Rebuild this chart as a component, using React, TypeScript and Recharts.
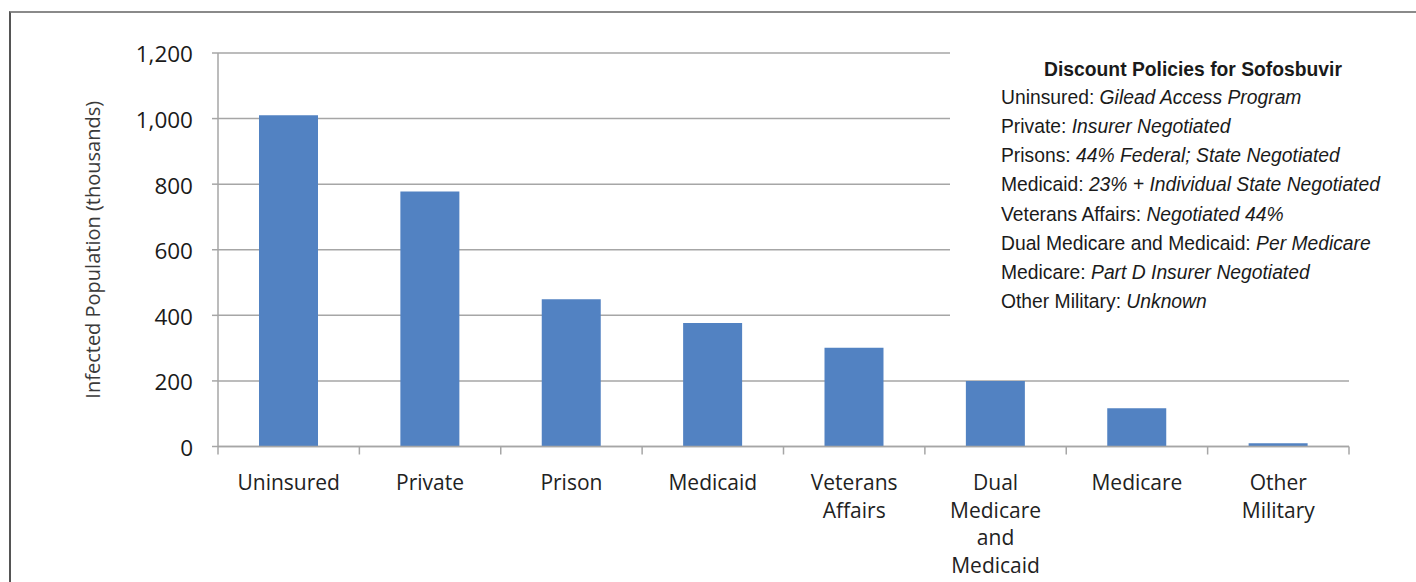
import { Bar, BarChart, CartesianGrid, XAxis, YAxis } from "recharts";

// infected population by payer, thousands
const categories = [
  "Uninsured",
  "Private",
  "Prison",
  "Medicaid",
  "Veterans Affairs",
  "Dual Medicare and Medicaid",
  "Medicare",
  "Other Military",
];
const population = [1010, 778, 449, 377, 301, 200, 117, 10];
const yTicks = [0, 200, 400, 600, 800, 1000, 1200];

const policyGroups = [
  "Uninsured",
  "Private",
  "Prisons",
  "Medicaid",
  "Veterans Affairs",
  "Dual Medicare and Medicaid",
  "Medicare",
  "Other Military",
];
const policies = [
  "Gilead Access Program",
  "Insurer Negotiated",
  "44% Federal; State Negotiated",
  "23% + Individual State Negotiated",
  "Negotiated 44%",
  "Per Medicare",
  "Part D Insurer Negotiated",
  "Unknown",
];

const data = categories.map((name, i) => ({ name, value: population[i] }));

const WIDTH = 1416;
const HEIGHT = 582;
const PLOT_LEFT = 218;
const PLOT_RIGHT = 1349;
const BAND = (PLOT_RIGHT - PLOT_LEFT) / categories.length;
const GRID = "#a6a6a6";
const AXIS_FONT = "'Open Sans', sans-serif";

function CategoryTick(props: any) {
  const { x, y, payload, index } = props;
  const words = String(payload.value).split(" ");
  const last = index === categories.length - 1;
  return (
    <g>
      <line x1={x - BAND / 2} x2={x - BAND / 2} y1={y - 8} y2={y} stroke={GRID} strokeWidth={1.5} />
      {last && (
        <line x1={x + BAND / 2} x2={x + BAND / 2} y1={y - 8} y2={y} stroke={GRID} strokeWidth={1.5} />
      )}
      <text
        x={x}
        y={y + 35.5}
        textAnchor="middle"
        fill="#222"
        fontSize={21}
        fontFamily={AXIS_FONT}
      >
        {words.map((w, i) => (
          <tspan key={w + i} x={x} dy={i === 0 ? 0 : 27.5}>
            {w}
          </tspan>
        ))}
      </text>
    </g>
  );
}

export default function App() {
  return (
    <div
      style={{
        position: "absolute",
        left: 0,
        top: 0,
        width: WIDTH,
        height: HEIGHT,
        background: "#fff",
        overflow: "hidden",
      }}
    >
      {/* frame */}
      <div
        style={{
          position: "absolute",
          left: 9,
          top: 11,
          right: -10,
          bottom: -10,
          borderTop: "2px solid #8a8a8a",
          borderLeft: "2px solid #555",
        }}
      />
      <BarChart
        width={WIDTH}
        height={HEIGHT}
        data={data}
        margin={{ top: 53, right: WIDTH - PLOT_RIGHT, left: 93, bottom: 16 }}
        barCategoryGap="29%"
      >
        <CartesianGrid vertical={false} stroke={GRID} strokeWidth={1.5} />
        <XAxis
          dataKey="name"
          height={119.5}
          interval={0}
          stroke={GRID}
          strokeWidth={1.5}
          tickLine={false}
          tickSize={8}
          tickMargin={0}
          tick={<CategoryTick />}
        />
        <YAxis
          width={125}
          domain={[0, 1200]}
          ticks={yTicks}
          interval={0}
          stroke={GRID}
          strokeWidth={1.5}
          tickSize={6}
          tickMargin={19}
          tickFormatter={(v: number) => v.toLocaleString("en-US")}
          tick={{ fill: "#1a1a1a", fontSize: 22.5, fontFamily: AXIS_FONT, dy: 1.5 }}
          label={{
            value: "Infected Population (thousands)",
            angle: -90,
            position: "insideLeft",
            offset: 0,
            style: {
              textAnchor: "middle",
              fill: "#3a3a3a",
              fontSize: 20,
              fontFamily: AXIS_FONT,
              fontWeight: 400,
            },
          }}
        />
        <Bar dataKey="value" fill="#5282c2" isAnimationActive={false} />
      </BarChart>

      {/* discount policy box */}
      <div
        style={{
          position: "absolute",
          left: 950,
          top: 40,
          width: 446,
          height: 290,
          background: "#fff",
          fontFamily: "'Liberation Sans', Arial, sans-serif",
          fontSize: 19.3,
          color: "#1a1a1a",
        }}
      >
        <div
          style={{
            position: "absolute",
            left: 51,
            top: 16,
            width: 384,
            textAlign: "center",
            fontWeight: 700,
            lineHeight: "27px",
            whiteSpace: "nowrap",
          }}
        >
          Discount Policies for Sofosbuvir
        </div>
        <div style={{ position: "absolute", left: 51, top: 43, lineHeight: "29.14px", whiteSpace: "nowrap" }}>
          {policyGroups.map((g, i) => (
            <div key={g}>
              {g}: <i>{policies[i]}</i>
            </div>
          ))}
        </div>
      </div>
    </div>
  );
}
